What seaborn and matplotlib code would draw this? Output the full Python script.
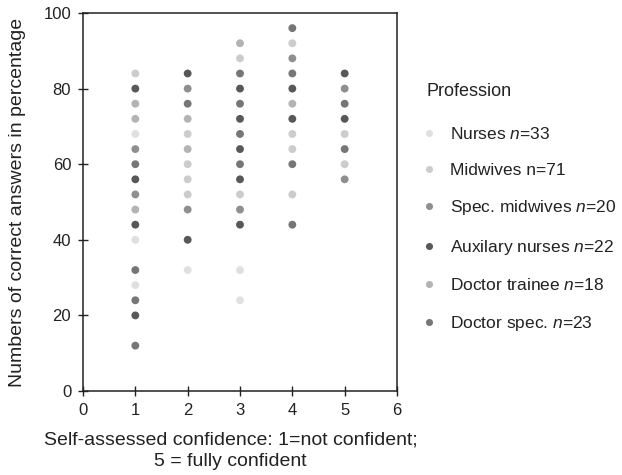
import matplotlib
matplotlib.use("Agg")
import matplotlib.pyplot as plt
import seaborn as sns
import pandas as pd

# ---- data ----
professions = ["Nurses $n$=33", "Midwives n=71", "Spec. midwives $n$=20",
               "Auxilary nurses $n$=22", "Doctor trainee $n$=18", "Doctor spec. $n$=23"]
colors = ["#e0e0e0", "#cccccc", "#8f8f8f", "#585858", "#b3b3b3", "#767676"]

nurses_conf = [1, 1, 1, 2, 3, 3]
nurses_score = [68, 40, 28, 32, 32, 24]
midwives_conf = [1, 2, 2, 2, 2, 3, 3, 4, 4, 4, 4, 5, 5]
midwives_score = [84, 68, 60, 56, 52, 88, 52, 92, 68, 64, 52, 68, 60]
spec_midwives_conf = [1, 1, 2, 2, 3, 4, 5, 5]
spec_midwives_score = [64, 52, 80, 48, 48, 88, 80, 56]
aux_nurses_conf = [1, 1, 1, 1, 2, 2, 3, 3, 3, 3, 3, 4, 4, 5, 5]
aux_nurses_score = [80, 56, 44, 20, 84, 40, 80, 72, 64, 56, 44, 80, 72, 84, 72]
doc_trainee_conf = [1, 1, 1, 2, 2, 3, 4]
doc_trainee_score = [76, 72, 48, 72, 64, 92, 76]
doc_spec_conf = [1, 1, 1, 1, 2, 3, 3, 3, 3, 4, 4, 4, 4, 5, 5]
doc_spec_score = [60, 32, 24, 12, 76, 84, 76, 68, 60, 96, 84, 60, 44, 76, 64]

x_ticks = [0, 1, 2, 3, 4, 5, 6]
y_ticks = [0, 20, 40, 60, 80, 100]

groups = [
    (nurses_conf, nurses_score),
    (midwives_conf, midwives_score),
    (spec_midwives_conf, spec_midwives_score),
    (aux_nurses_conf, aux_nurses_score),
    (doc_trainee_conf, doc_trainee_score),
    (doc_spec_conf, doc_spec_score),
]
frames = []
for name, (c, s) in zip(professions, groups):
    frames.append(pd.DataFrame({"conf": c, "score": s, "profession": name}))
df = pd.concat(frames, ignore_index=True)

# ---- style ----
sns.set_style("ticks")
plt.rcParams["font.family"] = ["Liberation Sans", "DejaVu Sans"]
plt.rcParams["mathtext.fontset"] = "custom"
plt.rcParams["mathtext.rm"] = "Liberation Sans"
plt.rcParams["mathtext.it"] = "Liberation Sans:italic"

fig = plt.figure(figsize=(6.22, 4.75), dpi=100)
ax = fig.add_axes([83 / 622, 1 - 391 / 475, (397 - 83) / 622, (391 - 13) / 475])

sns.scatterplot(data=df, x="conf", y="score", hue="profession",
                hue_order=professions, palette=dict(zip(professions, colors)),
                s=32, linewidth=0, ax=ax, legend=True)

ax.set_xlim(0, 6)
ax.set_ylim(0, 100)
ax.set_xticks(x_ticks)
ax.set_yticks(y_ticks)
ax.tick_params(direction="inout", length=7, width=1, colors="#222222",
               labelsize=12, pad=5, labelcolor="#222222")
for sp in ax.spines.values():
    sp.set_visible(True)
    sp.set_linewidth(1.1)
    sp.set_color("#222222")

ax.set_xlabel("Self-assessed confidence: 1=not confident;\n5 = fully confident",
              fontsize=14, color="#222222", linespacing=1.35)
ax.set_ylabel("Numbers of correct answers in percentage", fontsize=14, color="#222222")
ax.xaxis.set_label_coords(0.47, -0.108)
ax.yaxis.set_label_coords(-0.183, 0.50)

handles, labels = ax.get_legend_handles_labels()
ax.get_legend().remove()
fig.text(427 / 622, 1 - 91 / 475, "Profession", fontsize=13, color="#222222",
         ha="left", va="center")
leg = fig.legend(handles, labels, loc="upper left",
                 bbox_to_anchor=(420 / 622, 1 - 126 / 475), frameon=False,
                 fontsize=12.5, labelspacing=1.18,
                 handlelength=1.0, handletextpad=0.75, borderpad=0,
                 borderaxespad=0, markerscale=0.9)
for t in leg.get_texts():
    t.set_color("#222222")

fig.savefig("out.png", dpi=100)
